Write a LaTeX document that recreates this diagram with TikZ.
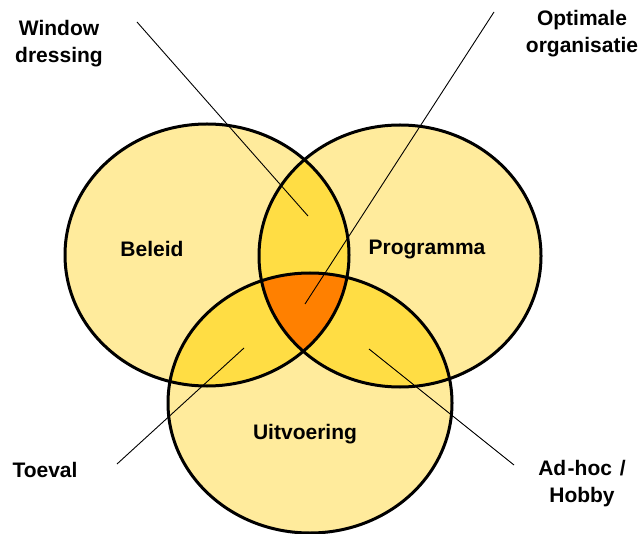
\documentclass[tikz,border=0pt]{standalone}
\usepackage{fontspec}
\setmainfont{Liberation Sans}
\definecolor{lightY}{HTML}{FFEB9C}
\definecolor{midY}{HTML}{FFDD44}
\definecolor{orng}{HTML}{FF8000}
\begin{document}
\begin{tikzpicture}[x=1pt,y=-1pt,
  lbl/.style={font=\bfseries\fontsize{21}{27}\selectfont, align=center, inner sep=0pt},
  ring/.style={line width=3pt},
  leader/.style={line width=0.9pt}]
\useasboundingbox (0,0) rectangle (642,534);
\def\LE{(207,255) ellipse (142 and 131)}
\def\RE{(400,256) ellipse (141 and 131)}
\def\BE{(310,403) ellipse (142 and 130)}
% base fills
\fill[lightY] \LE;
\fill[lightY] \RE;
\fill[lightY] \BE;
% pairwise overlaps
\begin{scope}
  \clip \LE;
  \fill[midY] \RE;
  \fill[midY] \BE;
\end{scope}
\begin{scope}
  \clip \RE;
  \fill[midY] \BE;
\end{scope}
% triple overlap
\begin{scope}
  \clip \LE;
  \clip \RE;
  \fill[orng] \BE;
\end{scope}
% outlines
\draw[ring] \LE;
\draw[ring] \RE;
\draw[ring] \BE;
% labels
\node[lbl, anchor=base] (beleid) at (152,257) {Beleid};
\node[lbl, anchor=base] (programma) at (427,255) {Programma};
\node[lbl, anchor=base] (uitvoering) at (305,439) {Uitvoering};
\node[lbl] (window) at (59,44) {Window\\dressing};
\node[lbl] (optimale) at (582,34) {Optimale\\organisatie};
\node[lbl, anchor=base] (toeval) at (45,477) {Toeval};
\node[lbl] (adhoc) at (582,484) {Ad\kern1.5pt-hoc\kern2pt\ /\\Hobby};
% leader lines
\coordinate (wdA) at (137,22);
\coordinate (wdB) at (308,216);
\coordinate (ooA) at (494,12);
\coordinate (ooB) at (305,304);
\coordinate (tvA) at (117,464);
\coordinate (tvB) at (244,348);
\coordinate (ahA) at (369,349);
\coordinate (ahB) at (514,465);
\draw[leader] (wdA) -- (wdB);
\draw[leader] (ooA) -- (ooB);
\draw[leader] (tvA) -- (tvB);
\draw[leader] (ahA) -- (ahB);
\end{tikzpicture}
\end{document}
